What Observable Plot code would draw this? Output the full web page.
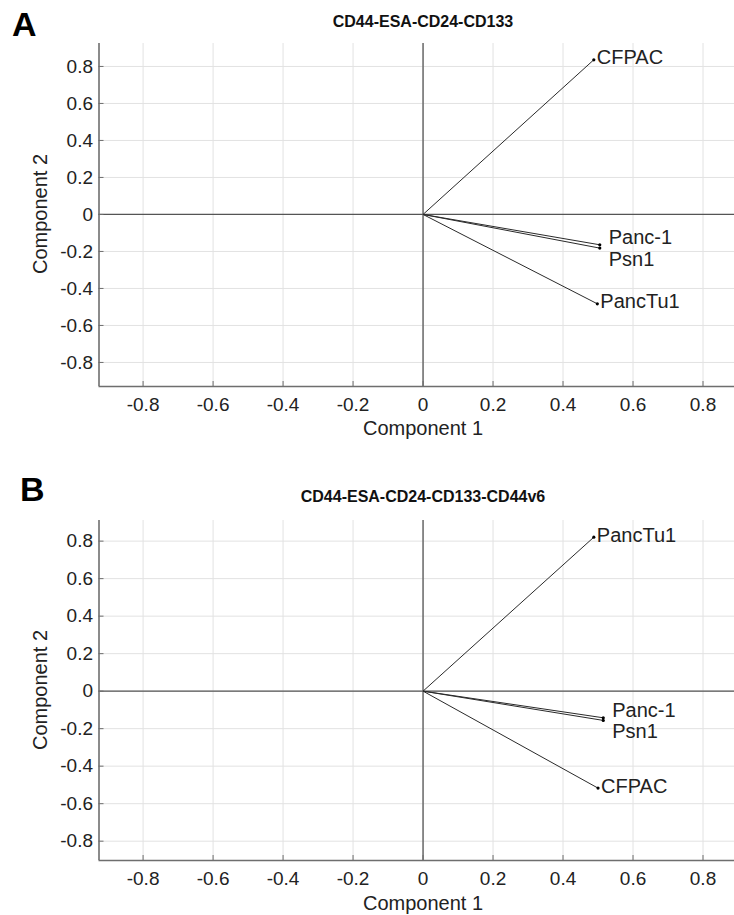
<!DOCTYPE html>
<html>
<head>
<meta charset="utf-8">
<script src="https://cdn.jsdelivr.net/npm/d3@7"></script>
<script src="https://cdn.jsdelivr.net/npm/@observablehq/plot@0.6"></script>
<style>
  html, body { margin: 0; padding: 0; background: #fff; }
  #root { position: relative; width: 734px; height: 915px; font-family: "Liberation Sans", Arial, sans-serif; color: #222; }
  .panel { position: absolute; left: 0; }
  .plabel { position: absolute; font-weight: bold; font-size: 34px; line-height: 1; color: #000; }
  .title { position: absolute; left: 0; width: 846px; text-align: center; font-weight: bold; font-size: 16px; line-height: 1; color: #111; }
  .xlab { position: absolute; left: 0; width: 846px; text-align: center; font-size: 20px; line-height: 1; color: #222; }
  .ylab { position: absolute; font-size: 20px; line-height: 1; color: #222; white-space: nowrap; transform: translate(-50%, -50%) rotate(-90deg); }
</style>
</head>
<body>
<div id="root"></div>
<script>
// ---- data ----
const xTicks = [-0.8, -0.6, -0.4, -0.2, 0, 0.2, 0.4, 0.6, 0.8];
const yTicks = [-0.8, -0.6, -0.4, -0.2, 0, 0.2, 0.4, 0.6, 0.8];

const titleA = "CD44-ESA-CD24-CD133";
const namesA = ["CFPAC", "Panc-1", "Psn1", "PancTu1"];
const comp1A = [0.488, 0.505, 0.505, 0.498];
const comp2A = [0.836, -0.164, -0.182, -0.483];

const titleB = "CD44-ESA-CD24-CD133-CD44v6";
const namesB = ["PancTu1", "Panc-1", "Psn1", "CFPAC"];
const comp1B = [0.488, 0.515, 0.515, 0.500];
const comp2B = [0.821, -0.142, -0.156, -0.517];

const xDomain = [-0.926, 0.89];
const yDomainA = [-0.93, 0.924];
const yDomainB = [-0.903, 0.91];

// ---- drawing ----
const root = document.getElementById("root");
const W = 734;

function panel({names, c1, c2, yDomain, top, height, mTop, mBottom}) {
  const data = names.map((n, i) => ({name: n, x: c1[i], y: c2[i]}));
  const mLeft = 98.5, mRight = 0;
  const innerW = W - mLeft - mRight;
  const innerH = height - mTop - mBottom;
  const pair = d => d.name === "Panc-1" || d.name === "Psn1";
  const fmt = d => String(d);
  const svg = Plot.plot({
    width: W, height,
    marginLeft: mLeft, marginRight: mRight, marginTop: mTop, marginBottom: mBottom,
    style: {fontFamily: "Liberation Sans, Arial, sans-serif", background: "transparent", color: "#222"},
    x: {domain: xDomain, ticks: xTicks, tickFormat: fmt},
    y: {domain: yDomain, ticks: yTicks, tickFormat: fmt},
    marks: [
      Plot.gridX(xTicks, {stroke: "#e2e2e2", strokeOpacity: 1, strokeWidth: 1}),
      Plot.gridY(yTicks, {stroke: "#e2e2e2", strokeOpacity: 1, strokeWidth: 1}),
      Plot.ruleX([0], {stroke: "#555", strokeWidth: 1.3}),
      Plot.ruleY([0], {stroke: "#555", strokeWidth: 1.3}),
      Plot.ruleX([xDomain[0]], {stroke: "#6e6e6e", strokeWidth: 1.6}),
      Plot.ruleY([yDomain[0]], {stroke: "#6e6e6e", strokeWidth: 1.6}),
      Plot.tickY(yTicks, {y: d => d, stroke: "#6e6e6e", strokeWidth: 1, insetRight: innerW - 5}),
      Plot.tickX(xTicks, {x: d => d, stroke: "#6e6e6e", strokeWidth: 1, insetTop: innerH - 5}),
      Plot.axisX(xTicks, {tickSize: 0, tickPadding: 11, fontSize: 19, tickFormat: fmt, label: null}),
      Plot.axisY(yTicks, {tickSize: 0, tickPadding: 6, fontSize: 19, tickFormat: fmt, label: null}),
      Plot.link(data, {x1: 0, y1: 0, x2: "x", y2: "y", stroke: "#2a2a2a", strokeWidth: 1}),
      Plot.dot(data, {x: "x", y: "y", r: 1.6, fill: "#000", stroke: null}),
      Plot.text(data.filter(d => !pair(d)), {x: "x", y: "y", text: "name", textAnchor: "start", dx: 3, dy: -2, fontSize: 20, fill: "#222"}),
      Plot.text(data.filter(d => d.name === "Panc-1"), {x: "x", y: "y", text: "name", textAnchor: "start", dx: 9, dy: -7, fontSize: 20, fill: "#222"}),
      Plot.text(data.filter(d => d.name === "Psn1"), {x: "x", y: "y", text: "name", textAnchor: "start", dx: 9, dy: 11, fontSize: 20, fill: "#222"})
    ]
  });
  const wrap = document.createElement("div");
  wrap.className = "panel";
  wrap.style.top = top + "px";
  wrap.appendChild(svg);
  root.appendChild(wrap);
}

panel({names: namesA, c1: comp1A, c2: comp2A, yDomain: yDomainA, top: 0, height: 450, mTop: 43, mBottom: 64});
panel({names: namesB, c1: comp1B, c2: comp2B, yDomain: yDomainB, top: 450, height: 465, mTop: 70, mBottom: 55});

function addDiv(cls, text, styles) {
  const d = document.createElement("div");
  d.className = cls;
  d.textContent = text;
  Object.assign(d.style, styles);
  root.appendChild(d);
}
addDiv("plabel", "A", {left: "12px", top: "7px"});
addDiv("plabel", "B", {left: "20px", top: "472px"});
addDiv("title", titleA, {top: "14px"});
addDiv("title", titleB, {top: "489px"});
addDiv("xlab", "Component 1", {top: "418px"});
addDiv("xlab", "Component 1", {top: "893px"});
addDiv("ylab", "Component 2", {left: "40px", top: "214px"});
addDiv("ylab", "Component 2", {left: "40px", top: "690px"});
</script>
</body>
</html>
